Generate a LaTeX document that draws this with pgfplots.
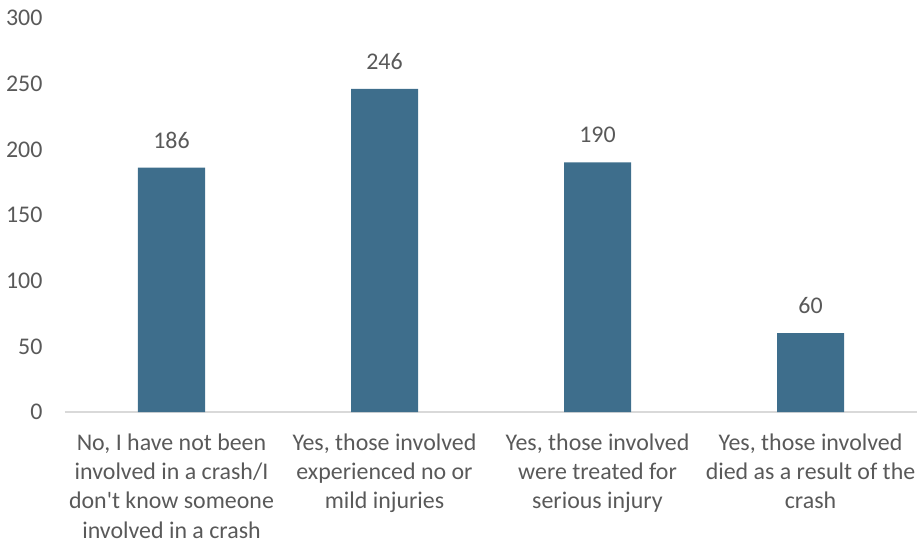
\documentclass[border=0pt]{standalone}
\usepackage{fontspec}
\setmainfont{Carlito}[Ligatures=TeXOff]
\usepackage{pgfplots}
\pgfplotsset{compat=1.18}
\definecolor{barblue}{HTML}{3E6E8C}
\definecolor{txtgray}{HTML}{595959}
\definecolor{axgray}{HTML}{D9D9D9}
\begin{document}
\begin{tikzpicture}
\begin{axis}[
    name=ax,
    scale only axis,
    width=852bp, height=394bp,
    xmin=-0.5, xmax=3.5,
    ymin=0, ymax=300,
    ytick={0,50,...,300},
    xtick=data,
    xticklabels={
      {No, I have not been\\involved in a crash/I\\don't know someone\\involved in a crash},
      {Yes, those involved\\experienced no or\\mild injuries},
      {Yes, those involved\\were treated for\\serious injury},
      {Yes, those involved\\died as a result of the\\crash}},
    axis x line*=bottom,
    axis y line*=left,
    x axis line style={draw=axgray, line width=1.3bp, -},
    y axis line style={draw=none},
    tick style={draw=none},
    font=\fontsize{24}{29.5}\selectfont,
    /pgf/number format/assume math mode=true,
    ticklabel style={text=txtgray},
    yticklabel style={anchor=east, xshift=-19bp},
    xticklabel style={align=center, anchor=north, yshift=-18bp},
    clip=false,
    nodes near coords,
    every node near coord/.append style={text=txtgray, yshift=16bp},
]
\addplot[ybar, bar width=67bp, fill=barblue, draw=none] coordinates {
    (0,186) (1,246) (2,190) (3,60)
};
\end{axis}
\pgfresetboundingbox
\path ([shift={(-65bp,-131bp)}]ax.south west) rectangle ([shift={(0bp,18bp)}]ax.north east);
\end{tikzpicture}
\end{document}
